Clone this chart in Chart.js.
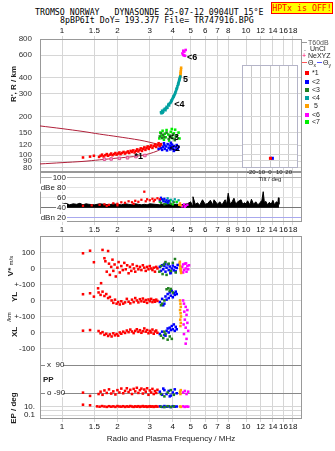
<!DOCTYPE html>
<html>
<head>
<meta charset="utf-8">
<script src="https://cdn.jsdelivr.net/npm/chart.js@4.4.0/dist/chart.umd.min.js"></script>
<style>
  body { margin: 0; background: #fff; width: 335px; height: 451px; position: relative; overflow: hidden; font-family: 'Liberation Sans', Arial, sans-serif; }
  canvas { position: absolute; }
  .t { position: absolute; white-space: pre; }
  .mono { font-family: 'DejaVu Sans Mono', monospace; font-size: 8.25px; line-height: 10px; color: #000; }
  .rot { position: absolute; white-space: pre; transform: translate(-50%, -50%) rotate(-90deg); font-size: 8px; font-weight: bold; color: #222; }
  .lg { position: absolute; left: 302px; font-size: 7px; line-height: 7px; color: #222; white-space: pre; }
  .sq { display: inline-block; width: 4px; height: 4px; margin: 0 3px 0 3px; }
  .ln { display: inline-block; width: 5px; height: 1px; margin: 0 1px 2px 0; }
</style>
</head>
<body>
<div class="t mono" style="left:35px; top:7px">TROMSO NORWAY   DYNASONDE 25-07-12 0904UT 15°E</div>
<div class="t mono" style="left:60px; top:15px">8pBP6It DoY= 193.377 File= TR747916.BPG</div>
<div class="t mono" style="left:271px; top:2px; width:60px; height:10px; text-align:center; color:#f00; background:#ff0; border:1px solid #f00">HPTx is OFF!</div>

<canvas id="iono" width="335" height="146" style="left:0; top:26px"></canvas>
<canvas id="amp" width="335" height="64" style="left:0; top:172px"></canvas>
<canvas id="lower" width="335" height="215" style="left:0; top:236px"></canvas>
<canvas id="tilt" width="75" height="125" style="left:230px; top:58px"></canvas>

<div class="rot" style="left:13px; top:84px">R', R / km</div>
<div class="rot" style="left:10px; top:266px">V* <span style="font-size:6px; font-weight:normal">m/s</span></div>
<div class="rot" style="left:14px; top:297px">YL</div>
<div class="rot" style="left:9px; top:317px; font-size:6px; font-weight:normal">/km</div>
<div class="rot" style="left:14px; top:332px">XL</div>
<div class="rot" style="left:13px; top:408px">EP / deg</div>
<div class="t" style="left:43px; top:375px; font-size:8px; font-weight:bold; color:#222">PP</div>

<div class="lg" style="top:39px; color:#555"><span class="ln" style="background:#999"></span>T60dB</div>
<div class="lg" style="top:45px"><span style="display:inline-block; width:6px; text-align:center">.</span> UnCl</div>
<div class="lg" style="top:52px"><span style="color:#f06; display:inline-block; width:6px">+</span>NeXYZ</div>
<div class="lg" style="top:59px"><span class="ln" style="background:#f55"></span>Θ<sub style="font-size:5px">x</sub><span class="ln" style="background:#55f; margin-left:1px"></span>Θ<sub style="font-size:5px">y</sub></div>
<div class="lg" style="top:69px"><span class="sq" style="background:#f00"></span>*1</div>
<div class="lg" style="top:78px"><span class="sq" style="background:#00f"></span>&lt;2</div>
<div class="lg" style="top:86px"><span class="sq" style="background:#208020"></span>&lt;3</div>
<div class="lg" style="top:94px"><span class="sq" style="background:#00a0a0"></span>&lt;4</div>
<div class="lg" style="top:102px"><span class="sq" style="background:#ffa000"></span> 5</div>
<div class="lg" style="top:111px"><span class="sq" style="background:#f0f"></span>&lt;6</div>
<div class="lg" style="top:118px"><span class="sq" style="background:#0e0"></span>&lt;7</div>

<script>
// axis ticks
const freqTop = [1, 1.5, 2, 3, 4, 5, 6, 7, 8, 10, 12, 14, 16, 18];
const freqMid = [1, 1.5, 2, 3, 4, 5, 6, 7, 8, 9, 10, 12, 14, 16, 18];
const heightTicks = [80, 90, 100, 120, 150, 200, 300, 400, 600, 800];
const dbTicks = [20, 40, 60, 80, 100];
const dbLabels = ['dBn 20', '40', '60', 'dBe 80', '100'];
const tiltTicks = [-20, -10, 0, 10, 20];

// virtual heights (f MHz, km)
const echo1 = [[1.30,96],[1.42,97.5],[1.49,99],[1.59,97],[1.62,99],[1.65,101],[1.68,98],[1.72,100],[1.75,102],[1.78,99],[1.82,101],[1.85,103],[1.88,100],[1.92,102],[1.95,104],[1.98,101],[2.02,103],[2.05,105],[2.08,102],[2.12,104],[2.16,106],[2.2,103],[2.24,105],[2.28,107],[2.32,104],[2.36,108],[2.4,106],[2.44,109],[2.48,105],[2.52,108],[2.56,111],[2.6,107],[2.64,110],[2.68,113],[2.72,108],[2.76,112],[2.8,115],[2.84,110],[2.88,114],[2.92,117],[2.96,112],[3.0,116],[3.05,119],[3.1,114],[3.15,118],[3.2,121],[3.25,116],[3.3,120],[3.35,124],[3.4,118],[3.45,122]];
const echo2 = [[3.35,112],[3.4,118],[3.45,114],[3.5,110],[3.55,116],[3.6,120],[3.62,112],[3.68,117],[3.72,109],[3.75,122],[3.8,114],[3.85,119],[3.88,111],[3.92,116],[3.96,121],[4.0,113],[4.05,118],[4.1,110],[4.15,115],[4.2,120],[4.25,112],[4.3,116],[3.58,124],[3.9,125],[4.05,108]];
const echo3 = [[3.4,140],[3.45,148],[3.5,136],[3.55,144],[3.6,138],[3.7,150],[3.8,134],[3.85,142],[3.95,137],[4.0,145],[4.1,131],[4.15,139]];
const echo4 = [[3.45,216],[3.5,222],[3.52,214],[3.58,226],[3.62,230],[3.65,224],[3.7,238],[3.74,234],[3.78,246],[3.82,244],[3.86,254],[3.9,258],[3.94,264],[3.97,272],[4.0,278],[4.04,284],[4.07,292],[4.1,298],[4.13,308],[4.16,316],[4.19,326],[4.22,334],[4.24,344],[4.27,354],[4.29,364],[4.31,372],[4.33,382],[4.35,392],[4.37,400],[4.39,410],[3.47,212],[3.55,218],[3.68,232],[3.8,250],[3.92,266],[4.02,286],[4.12,304],[4.2,330],[4.28,358],[4.34,385]];
const echo5 = [[4.38,405],[4.4,420],[4.41,435],[4.42,450],[4.43,465],[4.44,480],[4.39,415],[4.42,440]];
const echo6 = [[4.56,651],[4.51,620],[4.56,604],[4.66,594],[4.62,640],[4.7,660],[4.6,598]];
const echo7 = [[3.38,135],[3.42,150],[3.48,142],[3.52,155],[3.58,132],[3.62,147],[3.66,138],[3.7,157],[3.78,145],[3.82,130],[3.9,152],[3.98,136],[4.05,148],[4.12,158],[4.2,142],[4.3,150],[4.35,135],[3.95,160]];
const upperCurve = [[0.759,169],[1.0,161],[1.3,153],[1.6,146],[2.0,139.5],[2.65,131],[3.0,126],[3.3,122],[3.5,119],[3.57,117]];
const lowerCurve = [[0.759,85.5],[1.0,87.5],[1.3,89.5],[1.6,92],[2.0,95],[2.44,97.5],[2.8,100.5],[3.0,103],[3.3,108],[3.48,113],[3.57,117]];
const neXYZ = [[1.7,93],[1.85,93.5],[2.05,94.5],[2.27,95.5],[2.52,97.5],[2.82,99.5]];
const traceNames = ['*1', '<2', '<3', '<4', '5', '<6'];
const traceAt = [[2.48,97],[3.85,113],[3.8,137],[4.07,250],[4.55,390],[4.78,580]];

// amplitudes (f MHz, dB)
const noise = [[1.0,47],[1.05,49],[1.1,46],[1.15,48],[1.2,47],[1.25,49],[1.3,46],[1.35,48],[1.4,47],[1.5,46],[1.6,48],[1.7,47],[1.8,46],[1.9,48],[2.0,47],[2.1,46],[2.2,48],[2.3,47],[2.4,46],[2.5,48],[2.6,47],[2.7,46],[2.8,47],[2.9,46],[3.0,48],[3.2,47],[3.4,46],[3.6,48],[3.8,47],[4.0,46],[4.2,47],[4.4,46],[4.6,47],[4.8,48],[5.0,52],[5.1,45],[5.15,62],[5.3,47],[5.45,50],[5.6,45],[5.8,56],[6.0,47],[6.2,49],[6.4,55],[6.6,46],[6.7,56],[7.0,47],[7.2,52],[7.4,46],[7.7,56],[7.85,47],[8.0,69],[8.2,48],[8.4,52],[8.6,59],[8.8,47],[9.0,52],[9.4,56],[9.6,47],[9.8,50],[10.0,48],[10.2,54],[10.5,46],[10.7,57],[11.0,47],[11.3,52],[11.6,46],[11.9,50],[12.2,55],[12.4,72],[12.6,49],[12.8,53],[13.1,46],[13.4,51],[13.7,47],[14.0,55],[14.3,46],[14.6,52],[14.9,50],[15.0,60],[15.1,47]];
const amp1 = [[1.3,44],[1.45,45],[1.6,46],[1.7,47],[1.8,46],[1.9,49],[2.0,48],[2.1,51],[2.2,50],[2.3,53],[2.4,51],[2.5,54],[2.6,52],[2.7,56],[2.8,72],[2.85,53],[2.9,57],[3.0,55],[3.1,58],[3.2,56],[3.3,59],[3.4,57],[3.15,53],[2.45,48],[2.0,45],[1.75,44]];
const amp2 = [[3.4,55],[3.45,60],[3.5,57],[3.55,53],[3.6,58],[3.65,52],[3.7,55],[3.75,50],[3.8,54]];
const amp3 = [[3.45,50],[3.6,47],[3.75,52],[3.9,48],[4.05,51]];
const amp4 = [[3.6,54],[3.75,59],[3.9,56],[4.0,53],[4.1,57],[4.2,51],[4.3,55],[3.85,50]];
const amp5 = [[4.33,46],[4.38,49],[4.42,45]];
const amp6 = [[4.5,43],[4.6,47],[4.7,44],[4.8,46],[4.65,42]];
const amp7 = [[3.4,52],[3.55,56],[3.7,49],[3.85,54],[4.0,47],[4.2,52]];

// lower panel: V* (m/s), YL (km), XL (km), PP (deg), EP (deg)
const vel1 = [[1.30,95],[1.42,111],[1.49,39],[1.57,-124],[1.63,-92],[1.66,116],[1.7,64],[1.72,45],[1.75,-20],[1.78,109],[1.8,30],[1.82,-40],[1.85,10],[1.88,55],[1.9,-15],[1.93,25],[1.96,-50],[2.0,5],[2.03,40],[2.06,-25],[2.1,15],[2.14,-10],[2.18,35],[2.22,-5],[2.26,20],[2.3,-30],[2.34,10],[2.38,-15],[2.42,25],[2.46,0],[2.5,-20],[2.55,15],[2.6,-5],[2.65,10],[2.7,-10],[2.75,20],[2.8,5],[2.85,-15],[2.9,10],[2.95,-5],[3.0,15],[3.05,0],[3.1,-10],[3.15,5],[3.2,-20],[3.25,10],[3.3,0]];
const yl1 = [[1.30,39],[1.42,45],[1.49,24],[1.58,50],[1.62,35],[1.66,55],[1.7,28],[1.74,40],[1.78,15],[1.82,22],[1.86,0],[1.9,-15],[1.94,5],[1.98,-20],[2.02,-10],[2.06,-25],[2.1,-5],[2.15,-20],[2.2,-12],[2.25,10],[2.3,-8],[2.35,-18],[2.4,5],[2.45,-10],[2.5,15],[2.55,0],[2.6,-12],[2.65,8],[2.7,-5],[2.75,12],[2.8,-8],[2.85,3],[2.9,-15],[2.95,6],[3.0,-5],[3.05,10],[3.1,-10],[3.15,2],[3.2,-8],[3.25,5],[3.3,-3]];
const xl1 = [[1.30,11],[1.42,15],[1.58,9],[1.62,-5],[1.66,2],[1.7,-15],[1.74,-8],[1.78,-22],[1.82,-12],[1.86,-25],[1.9,-5],[1.94,-18],[1.98,-10],[2.02,-20],[2.06,0],[2.1,-8],[2.15,5],[2.2,-3],[2.25,12],[2.3,2],[2.35,18],[2.4,6],[2.45,-4],[2.5,10],[2.55,20],[2.6,4],[2.65,14],[2.7,-2],[2.75,8],[2.8,25],[2.85,5],[2.9,15],[2.95,-5],[3.0,10],[3.05,0],[3.1,18],[3.15,-8],[3.2,6],[3.25,12],[3.3,-2]];
const pp1 = [[1.30,-86],[1.42,-107],[1.58,-95],[1.62,-80],[1.66,-100],[1.7,-72],[1.75,-88],[1.8,-65],[1.85,-92],[1.9,-78],[1.95,-98],[2.0,-70],[2.05,-85],[2.1,-60],[2.15,-90],[2.2,-75],[2.25,-58],[2.3,-82],[2.35,-68],[2.4,-95],[2.45,-62],[2.5,-78],[2.55,-55],[2.6,-88],[2.65,-70],[2.7,-60],[2.75,-92],[2.8,-66],[2.85,-80],[2.9,-58],[2.95,-100],[3.0,-72],[3.05,-85],[3.1,-62],[3.15,-95],[3.2,-76],[3.25,-88],[3.3,-68]];
const ep1 = [[1.30,30],[1.42,22],[1.55,12],[1.6,10],[1.65,14],[1.7,11],[1.75,9],[1.8,13],[1.85,10],[1.9,12],[1.95,9],[2.0,14],[2.05,11],[2.1,10],[2.15,13],[2.2,9],[2.25,12],[2.3,10],[2.35,14],[2.4,11],[2.45,9],[2.5,12],[2.55,10],[2.6,13],[2.65,9],[2.7,11],[2.75,14],[2.8,10],[2.85,12],[2.9,9],[2.95,11],[3.0,13],[3.05,10],[3.1,12],[3.15,9],[3.2,11],[3.25,13],[3.3,10]];
const vel2 = [[3.4,10],[3.45,-15],[3.5,20],[3.55,-5],[3.6,15],[3.65,-20],[3.7,5],[3.75,25],[3.8,-10],[3.85,12],[3.9,-25],[3.95,0],[4.0,18],[4.05,-12],[4.1,8],[4.15,-18],[4.2,3],[4.25,22],[3.62,30],[3.88,-30]];
const yl2 = [[3.4,-10],[3.5,10],[3.6,-20],[3.65,25],[3.7,5],[3.75,40],[3.8,15],[3.85,50],[3.9,30],[3.95,60],[4.0,20],[4.05,45],[4.1,35],[4.15,55],[4.2,40],[3.55,-30]];
const xl2 = [[3.4,-10],[3.5,5],[3.6,-15],[3.7,10],[3.75,25],[3.8,0],[3.85,30],[3.9,15],[3.95,40],[4.0,20],[4.05,50],[4.1,10],[4.15,35],[4.2,20],[3.65,-20]];
const pp2 = [[3.4,-80],[3.5,-100],[3.6,-70],[3.7,-95],[3.8,-75],[3.9,-105],[4.0,-85],[4.1,-65],[4.2,-90],[3.55,-60],[3.85,-110]];
const ep2 = [[3.4,12],[3.5,9],[3.6,14],[3.7,10],[3.8,12],[3.9,8],[4.0,13],[4.1,10],[4.2,11]];
const vel3 = [[3.38,-20],[3.45,15],[3.52,-35],[3.58,25],[3.7,-40],[3.8,30],[3.9,-15],[4.0,35],[4.11,59],[4.15,-25],[3.65,40]];
const yl3 = [[3.7,70],[3.78,76],[3.85,60],[3.9,72],[3.45,-30],[3.5,-20],[3.6,0],[4.0,50]];
const xl3 = [[3.45,-20],[3.55,-35],[3.65,-10],[3.75,-45],[3.85,-25],[3.95,-40],[3.6,5]];
const pp3 = [[3.45,-95],[3.6,-110],[3.75,-85],[3.9,-70],[4.05,-100]];
const ep3 = [[3.45,10],[3.6,8],[3.75,13],[3.9,9],[4.05,12]];
const vel5 = [[4.35,30],[4.38,15],[4.4,0],[4.42,-15],[4.44,-28],[4.37,42],[4.41,-5]];
const yl5 = [[4.38,0],[4.4,-20],[4.42,-40],[4.38,-60],[4.41,-80],[4.43,-100],[4.39,-120],[4.42,-140],[4.4,-160]];
const pp5 = [[4.38,-80],[4.4,-95],[4.42,-70]];
const ep5 = [[4.38,11],[4.42,9]];
const vel6 = [[4.5,10],[4.55,25],[4.6,-10],[4.65,30],[4.7,0],[4.75,-20],[4.8,15],[4.85,-5],[4.9,20],[4.55,-25],[4.72,32]];
const yl6 = [[4.55,0],[4.6,-20],[4.7,-40],[4.62,-70],[4.75,-90],[4.65,-120],[4.8,-140],[4.7,-170],[4.85,-190],[4.6,-210],[4.75,-240],[4.7,-270],[4.8,-60],[4.58,-150]];
const pp6 = [[4.55,-85],[4.65,-75],[4.75,-95],[4.85,-80]];
const ep6 = [[4.55,12],[4.65,9],[4.75,11],[4.85,10]];

// tilt inset (deg, km)
const tiltX = [[0.5,94]];
const tiltY = [[2.5,94]];

const RED = '#ff0000', BLUE = '#0000ff', DKGREEN = '#208020', TEAL = '#00a0a0', ORANGE = '#ffa000', MAGENTA = '#ff00ff', LTGREEN = '#00ee00';
const tickFont = { family: 'Liberation Sans', size: 8 };
const GRID = '#d6d6d6';

const pts = a => a.map(([x, y]) => ({ x, y }));
const band = (a, fn) => a.map(([x, v]) => ({ x, y: fn(v) }));
// stacking of the lower panel rows in one axis
const vRow = v => v;
const ylRow = v => -200 + v;
const xlRow = v => -400 + v;
const ppRow = p => -780 + (p + 90) * 0.972;
const epRow = e => -864 + 26 * Math.log10(e / 10);

function dots(data, color, r) {
  return { data, backgroundColor: color, borderWidth: 0, pointStyle: 'rect', pointRadius: r || 1.8 };
}

// no extra room for labels at the axis ends
function noPad(s) {
  s.paddingTop = 0; s.paddingBottom = 0; s.paddingLeft = 0; s.paddingRight = 0;
}

function freqAxis(list, position, height) {
  return {
    type: 'logarithmic', position, min: 0.759, max: 20.15,
    afterBuildTicks: s => { s.ticks = list.map(v => ({ value: v })); },
    afterFit: s => { s.height = height; noPad(s); },
    ticks: { color: '#111', font: tickFont, padding: 0, autoSkip: false, maxRotation: 0, callback: v => String(v) },
    grid: { color: GRID, tickLength: 3 },
    border: { display: false }
  };
}

const framePlugin = {
  id: 'frame',
  beforeDatasetsDraw(chart) {
    const { ctx, chartArea: a } = chart;
    ctx.save();
    ctx.strokeStyle = '#999';
    ctx.lineWidth = 1;
    ctx.strokeRect(Math.round(a.left) + 0.5, Math.round(a.top) + 0.5, Math.round(a.right - a.left) - 1, Math.round(a.bottom - a.top) - 1);
    ctx.restore();
  }
};

const baseOpts = {
  responsive: false,
  animation: false,
  plugins: { legend: { display: false }, tooltip: { enabled: false } }
};
const panelLayout = { autoPadding: false, padding: { left: 0, right: 33, top: 0, bottom: 0 } };

// ionogram
new Chart(document.getElementById('iono'), {
  type: 'scatter',
  data: {
    datasets: [
      dots(pts(echo1), RED),
      dots(pts(echo2), BLUE),
      dots(pts(echo3), DKGREEN),
      dots(pts(echo7), LTGREEN),
      dots(pts(echo4), TEAL),
      dots(pts(echo5), ORANGE),
      dots(pts(echo6), MAGENTA),
      { data: pts(neXYZ), backgroundColor: '#ffa0d0', borderColor: '#e05090', borderWidth: 1, pointStyle: 'rect', pointRadius: 1.8, order: 1 },
      { data: pts(upperCurve), showLine: true, borderColor: '#b0203a', borderWidth: 1, pointRadius: 0, tension: 0.3, order: 2 },
      { data: pts(lowerCurve), showLine: true, borderColor: '#b0203a', borderWidth: 1, pointRadius: 0, tension: 0.3, order: 2 }
    ]
  },
  options: {
    ...baseOpts,
    layout: panelLayout,
    scales: {
      x: freqAxis(freqTop, 'top', 13),
      y: {
        type: 'logarithmic', min: 74, max: 803,
        afterBuildTicks: s => { s.ticks = heightTicks.map(v => ({ value: v })); },
        afterFit: s => { s.width = 40; noPad(s); },
        ticks: { color: '#333', font: tickFont, padding: 8, callback: v => String(v) },
        grid: { color: GRID, drawTicks: false },
        border: { display: false }
      }
    }
  },
  plugins: [framePlugin, {
    id: 'traceLabels',
    afterDatasetsDraw(chart) {
      const { ctx, scales: { x, y } } = chart;
      ctx.save();
      ctx.font = 'bold 9px "Liberation Sans"';
      ctx.fillStyle = '#000';
      ctx.textBaseline = 'middle';
      traceNames.forEach((t, i) => ctx.fillText(t, x.getPixelForValue(traceAt[i][0]), y.getPixelForValue(traceAt[i][1])));
      ctx.restore();
    }
  }]
});

// echo amplitudes
new Chart(document.getElementById('amp'), {
  type: 'scatter',
  data: {
    datasets: [
      dots(pts(amp1), RED, 1.6),
      dots(pts(amp2), BLUE, 1.6),
      dots(pts(amp3), DKGREEN, 1.6),
      dots(pts(amp7), LTGREEN, 1.6),
      dots(pts(amp4), TEAL, 1.6),
      dots(pts(amp5), ORANGE, 1.6),
      dots(pts(amp6), MAGENTA, 1.6),
      { data: pts(noise), showLine: true, borderColor: '#000', backgroundColor: '#000', borderWidth: 1, pointRadius: 0, fill: { value: 40 }, order: 2 }
    ]
  },
  options: {
    ...baseOpts,
    layout: panelLayout,
    scales: {
      x: freqAxis(freqMid, 'bottom', 14),
      y: {
        type: 'linear', min: 12, max: 111,
        afterBuildTicks: s => { s.ticks = dbTicks.map(v => ({ value: v })); },
        afterFit: s => { s.width = 40; noPad(s); },
        ticks: { display: false },
        grid: { drawTicks: false, color: c => c.tick.value === 40 ? '#777' : c.tick.value === 20 ? '#a8a8ee' : c.tick.value === 100 ? '#aaa' : '#e2e2e2' },
        border: { display: false }
      }
    }
  },
  plugins: [framePlugin, {
    id: 'dbLabels',
    afterDraw(chart) {
      const { ctx, scales: { y } } = chart;
      ctx.save();
      ctx.font = '8px "Liberation Sans"';
      ctx.textAlign = 'right';
      ctx.textBaseline = 'middle';
      dbTicks.forEach((v, i) => {
        const py = y.getPixelForValue(v);
        const w = ctx.measureText(dbLabels[i]).width;
        ctx.fillStyle = '#fff';
        ctx.fillRect(66 - w - 1, py - 4, w + 2, 8);
        ctx.fillStyle = '#222';
        ctx.fillText(dbLabels[i], 66, py);
      });
      ctx.restore();
    }
  }]
});

// velocity, location, polarisation
const lowerTicks = [vRow(100), vRow(0), vRow(-100), ylRow(0), ylRow(-100), xlRow(0), xlRow(-100), ppRow(90), ppRow(-90), epRow(10), epRow(1), epRow(0.1)];
const lowerLabels = ['100', '0', '+-100', '0', '+-100', '0', '-100', '', '', '10.', '', '0.1'];
const ppLabels = ['x  90', 'o -90'];

new Chart(document.getElementById('lower'), {
  type: 'scatter',
  data: {
    datasets: [
      dots([...band(vel1, vRow), ...band(yl1, ylRow), ...band(xl1, xlRow), ...band(pp1, ppRow), ...band(ep1, epRow)], RED),
      dots([...band(vel3, vRow), ...band(yl3, ylRow), ...band(xl3, xlRow), ...band(pp3, ppRow), ...band(ep3, epRow)], DKGREEN),
      dots([...band(vel2, vRow), ...band(yl2, ylRow), ...band(xl2, xlRow), ...band(pp2, ppRow), ...band(ep2, epRow)], BLUE),
      dots([...band(vel5, vRow), ...band(yl5, ylRow), ...band(pp5, ppRow), ...band(ep5, epRow)], ORANGE),
      dots([...band(vel6, vRow), ...band(yl6, ylRow), ...band(pp6, ppRow), ...band(ep6, epRow)], MAGENTA)
    ]
  },
  options: {
    ...baseOpts,
    layout: panelLayout,
    scales: {
      x: {
        ...freqAxis(freqTop, 'bottom', 32),
        title: { display: true, text: 'Radio and Plasma Frequency / MHz', color: '#222', font: tickFont, padding: { top: 0, bottom: 7 } }
      },
      y: {
        type: 'linear', min: -941, max: 203,
        afterBuildTicks: s => { s.ticks = lowerTicks.map(v => ({ value: v })); },
        afterFit: s => { s.width = 40; noPad(s); },
        ticks: { color: '#222', font: tickFont, padding: 5, callback: (v, i) => lowerLabels[i] },
        grid: { drawTicks: false, color: c => (c.index === 7 || c.index === 8) ? '#888' : GRID },
        border: { display: false }
      }
    }
  },
  plugins: [framePlugin, {
    id: 'ppLabels',
    afterDraw(chart) {
      const { ctx, scales: { y } } = chart;
      ctx.save();
      ctx.font = '8px "Liberation Sans"';
      ctx.textBaseline = 'middle';
      [90, -90].forEach((p, i) => {
        const py = y.getPixelForValue(ppRow(p));
        ctx.fillStyle = '#fff';
        ctx.fillRect(45, py - 4, 18, 8);
        ctx.fillStyle = '#222';
        ctx.fillText(ppLabels[i], 47, py);
      });
      ctx.restore();
    }
  }]
});

// tilt inset
new Chart(document.getElementById('tilt'), {
  type: 'scatter',
  data: {
    datasets: [
      dots(pts(tiltX), RED, 2.2),
      dots(pts(tiltY), BLUE, 2.2)
    ]
  },
  options: {
    ...baseOpts,
    layout: { autoPadding: false, padding: { left: 12, right: 7, top: 7, bottom: 0 } },
    scales: {
      x: {
        type: 'linear', min: -30, max: 30,
        afterBuildTicks: s => { s.ticks = tiltTicks.map(v => ({ value: v })); },
        afterFit: s => { s.height = 15; noPad(s); },
        ticks: { color: '#222', font: { family: 'Liberation Sans', size: 6 }, padding: 1, autoSkip: false, maxRotation: 0 },
        title: { display: true, text: 'Tilt / deg', color: '#222', font: { family: 'Liberation Sans', size: 6 }, padding: 0 },
        grid: { color: '#c8c8c8', drawTicks: false },
        border: { display: false }
      },
      y: {
        type: 'logarithmic', min: 79, max: 501,
        afterBuildTicks: s => { s.ticks = heightTicks.filter(v => v >= 79 && v <= 501).map(v => ({ value: v })); },
        afterFit: s => { s.width = 0; noPad(s); },
        ticks: { display: false },
        grid: { color: GRID, drawTicks: false },
        border: { display: false }
      }
    }
  },
  plugins: [{
    id: 'insetBg',
    beforeDraw(chart) {
      const { ctx, chartArea: a } = chart;
      ctx.save();
      ctx.fillStyle = '#fff';
      ctx.fillRect(a.left, a.top, a.right - a.left, a.bottom - a.top);
      ctx.restore();
    },
    beforeDatasetsDraw(chart) {
      const { ctx, chartArea: a } = chart;
      ctx.save();
      ctx.strokeStyle = '#b4b4c8';
      ctx.strokeRect(Math.round(a.left) + 0.5, Math.round(a.top) + 0.5, Math.round(a.right - a.left) - 1, Math.round(a.bottom - a.top) - 1);
      ctx.restore();
    }
  }]
});
</script>
</body>
</html>
